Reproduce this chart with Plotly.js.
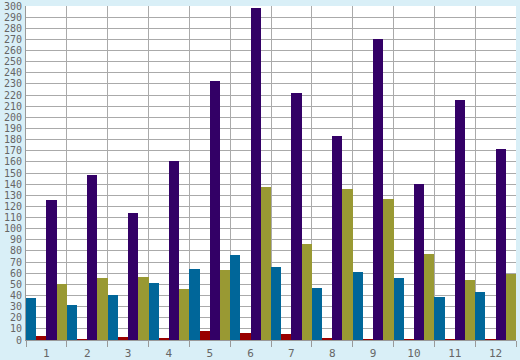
<!DOCTYPE html>
<html><head><meta charset="utf-8">
<script src="https://cdn.plot.ly/plotly-3.0.1.min.js"></script>
<style>html,body{margin:0;padding:0;background:#d9eff7;}#chart{width:520px;height:360px;}</style>
</head><body><div id="chart"></div>
<script>
var categories = ['1','2','3','4','5','6','7','8','9','10','11','12'];
var blueValues   = [38, 31, 40, 51, 64, 76, 66, 47, 61, 56, 39, 43];
var redValues    = [4, 1, 3, 2, 8, 6, 5, 2, 0.5, 1, 1, 1];
var purpleValues = [126, 148, 114, 161, 233, 298, 222, 183, 270, 140, 216, 172];
var oliveValues  = [50, 56, 57, 46, 63, 137, 86, 136, 127, 77, 54, 59];
var yTickVals = [];
for (var v = 0; v <= 300; v += 10) yTickVals.push(v);

var colors = ['#006699', '#990000', '#330066', '#999933'];
var series = [blueValues, redValues, purpleValues, oliveValues];
var data = series.map(function (vals, i) {
  return {type: 'bar', x: categories, y: vals, marker: {color: colors[i], line: {width: 0}}, hoverinfo: 'none'};
});
var axisFont = {family: 'DejaVu Sans Mono, monospace', size: 10, color: '#666666'};
var layout = {
  width: 520, height: 360,
  margin: {l: 26, r: 4, t: 6, b: 20, pad: 0},
  paper_bgcolor: '#d9eff7', plot_bgcolor: '#ffffff',
  showlegend: false, barmode: 'group', bargap: 0, bargroupgap: 0,
  xaxis: {type: 'category', tickson: 'boundaries', ticks: 'outside', ticklen: 6, tickcolor: '#999999',
          showgrid: true, gridcolor: '#aaaaaa', gridwidth: 1, showline: true, linecolor: '#999999',
          tickfont: {family: 'DejaVu Sans Mono, monospace', size: 11, color: '#666666'},
          ticklabelstandoff: 3, fixedrange: true},
  yaxis: {range: [0, 300], tickvals: yTickVals, showgrid: true, gridcolor: '#aaaaaa', gridwidth: 1,
          showline: true, linecolor: '#999999', ticks: '', zeroline: false, tickfont: axisFont,
          ticklabelstandoff: 1, fixedrange: true, mirror: false}
};
Plotly.newPlot('chart', data, layout, {staticPlot: true});
</script></body></html>
